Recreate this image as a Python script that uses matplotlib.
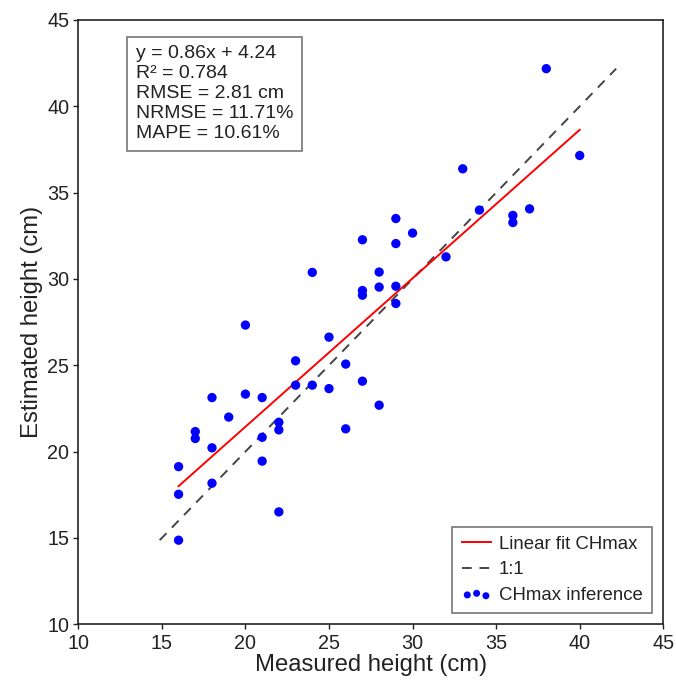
import matplotlib
matplotlib.use("Agg")
import matplotlib.pyplot as plt
import numpy as np

plt.rcParams['font.family'] = ['Liberation Sans', 'DejaVu Sans']

measured = [20, 23, 23, 24, 18, 20, 21, 19, 17, 17, 18, 22, 22, 21, 21, 16, 18, 16, 22, 16,
            29, 30, 27, 29, 32, 24, 28, 28, 27, 27, 29, 29, 25, 26, 25, 27, 28, 26,
            38, 40, 33, 34, 37, 36, 36]
estimated = [27.33, 25.26, 23.85, 23.85, 23.13, 23.33, 23.13, 22.0, 21.16, 20.76, 20.22, 21.70,
             21.26, 20.83, 19.45, 19.13, 18.17, 17.53, 16.51, 14.87,
             33.5, 32.66, 32.27, 32.05, 31.28, 30.38, 30.40, 29.53, 29.33, 29.06, 29.58, 28.58,
             26.63, 25.07, 23.65, 24.08, 22.69, 21.32,
             42.18, 37.15, 36.38, 33.99, 34.06, 33.68, 33.27]
fit_slope = 0.86
fit_intercept = 4.24
stats_lines = ["y = 0.86x + 4.24", "R\u00b2 = 0.784", "RMSE = 2.81 cm",
               "NRMSE = 11.71%", "MAPE = 10.61%"]
x_ticks = [10, 15, 20, 25, 30, 35, 40, 45]
y_ticks = [10, 15, 20, 25, 30, 35, 40, 45]

fig = plt.figure(figsize=(6.76, 6.84), dpi=100)
ax = fig.add_axes([0.1158, 0.0873, 0.9812 - 0.1158, 0.9708 - 0.0873])

mx = np.array(measured, dtype=float)
ey = np.array(estimated, dtype=float)

xf = np.array([mx.min(), mx.max()])
ax.plot(xf, fit_slope * xf + fit_intercept, color='red', lw=1.4, label='Linear fit CHmax', zorder=3)
lo = min(mx.min(), ey.min())
hi = max(mx.max(), ey.max())
ax.plot([lo, hi], [lo, hi], color='#444444', lw=1.4, ls=(0, (5, 4)), label='1:1', zorder=2)
ax.scatter(mx, ey, s=45, color='blue', edgecolors='none', label='CHmax inference', zorder=4)

ax.set_xlim(10, 45)
ax.set_ylim(10, 45)
ax.set_xticks(x_ticks)
ax.set_yticks(y_ticks)
ax.tick_params(axis='both', direction='out', length=3.5, width=1, labelsize=14.2, colors='#222222',
               top=False, right=False)
ax.tick_params(axis='x', pad=3.5)
ax.tick_params(axis='y', pad=3)
for sp in ax.spines.values():
    sp.set_linewidth(1.2)
    sp.set_color('#222222')

ax.set_xlabel('Measured height (cm)', fontsize=17.2, color='#222222', labelpad=1)
ax.set_ylabel('Estimated height (cm)', fontsize=17.2, color='#222222', labelpad=3)

ax.text(0.098, 0.958, "\n".join(stats_lines), transform=ax.transAxes, ha='left', va='top',
        fontsize=14, color='#222222', linespacing=1.23,
        bbox=dict(boxstyle='square,pad=0.45', facecolor='white', edgecolor='#777777', linewidth=1.2))

leg = ax.legend(loc='lower right', scatterpoints=3, markerscale=0.75, fontsize=13.4, fancybox=False,
                edgecolor='#777777', framealpha=1, borderpad=0.5, handlelength=1.6,
                labelspacing=0.45, borderaxespad=0.6, handletextpad=0.4)
leg.get_frame().set_linewidth(1.2)
for t in leg.get_texts():
    t.set_color('#222222')

fig.savefig('out.png', dpi=100)
